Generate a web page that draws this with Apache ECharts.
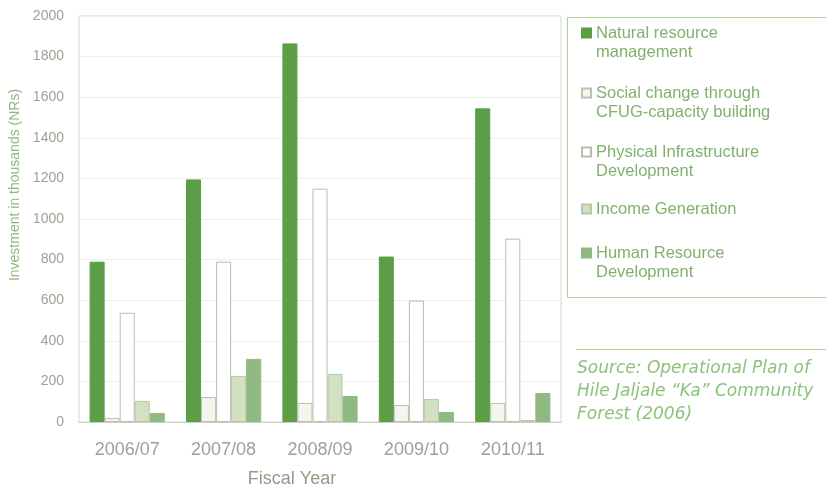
<!DOCTYPE html>
<html>
<head>
<meta charset="utf-8">
<script src="https://cdn.jsdelivr.net/npm/echarts@6/dist/echarts.min.js"></script>
<style>
  html, body { margin: 0; padding: 0; background: #fff; }
  #main { width: 826px; height: 487px; }
</style>
</head>
<body>
<div id="main"></div>
<script>
// data (thousands of NRs)
var years = ['2006/07', '2007/08', '2008/09', '2009/10', '2010/11'];
var seriesNames = [
  'Natural resource management',
  'Social change through CFUG-capacity building',
  'Physical Infrastructure Development',
  'Income Generation',
  'Human Resource Development'
];
var legendLabels = [
  'Natural resource\nmanagement',
  'Social change through\nCFUG-capacity building',
  'Physical Infrastructure\nDevelopment',
  'Income Generation',
  'Human Resource\nDevelopment'
];
var naturalResource = [790, 1195, 1865, 815, 1545];
var socialChange    = [20, 123, 94, 84, 94];
var physicalInfra   = [538, 790, 1150, 598, 903];
var incomeGen       = [104, 227, 237, 113, 10];
var humanResource   = [44, 311, 128, 49, 143];
var yTicks = { min: 0, max: 2000, interval: 200 };

var values = [naturalResource, socialChange, physicalInfra, incomeGen, humanResource];
var fills = ['#5c9e48', '#f3f6ed', '#ffffff', '#d2e1c2', '#90b982'];
var borders = ['#5c9e48', '#bcc1b0', '#b9bdac', '#b9c8a8', '#90b982'];

var chart = echarts.init(document.getElementById('main'));

var series = seriesNames.map(function (name, i) {
  return {
    name: name,
    type: 'bar',
    barGap: '0%',
    barCategoryGap: '22%',
    itemStyle: { color: fills[i], borderColor: borders[i], borderWidth: 1 },
    data: values[i]
  };
});

// one legend per entry; a blank leading line keeps the marker beside the first text line
var firstLineY = [33, 93, 152, 209, 253];
var legends = seriesNames.map(function (name, i) {
  var twoLines = legendLabels[i].indexOf('\n') >= 0;
  return {
    orient: 'vertical',
    left: 581,
    top: twoLines ? firstLineY[i] - 28.5 : firstLineY[i] - 9.5,
    padding: 0,
    itemWidth: 9,
    itemHeight: 9,
    itemGap: 0,
    selectedMode: false,
    icon: 'rect',
    data: [name],
    formatter: function () { return twoLines ? ' \n' + legendLabels[i] : legendLabels[i]; },
    textStyle: {
      fontFamily: 'Liberation Sans',
      fontSize: 16.5,
      color: '#82b06d',
      lineHeight: 19
    }
  };
});

chart.setOption({
  animation: false,
  backgroundColor: '#ffffff',
  grid: {
    left: 79, right: 265, top: 16, bottom: 65,
    outerBoundsMode: 'none',
    containLabel: false,
    show: true, borderColor: '#d3d7cf', borderWidth: 1
  },
  legend: legends,
  xAxis: {
    type: 'category',
    data: years,
    name: 'Fiscal Year',
    nameLocation: 'middle',
    nameGap: 48,
    nameTextStyle: {
      fontFamily: 'Liberation Sans', fontSize: 18, color: '#8e9d87',
      padding: [0, 56, 0, 0]
    },
    axisLine: { lineStyle: { color: '#c9cfc3' } },
    axisTick: { show: false },
    axisLabel: {
      fontFamily: 'Liberation Sans', fontSize: 18, color: '#9aa394', margin: 19
    }
  },
  yAxis: {
    type: 'value',
    min: yTicks.min,
    max: yTicks.max,
    interval: yTicks.interval,
    name: 'Investment in thousands (NRs)',
    nameLocation: 'middle',
    nameRotate: 90,
    nameGap: 50,
    nameTextStyle: {
      fontFamily: 'Liberation Sans', fontSize: 14, color: '#8dba7c',
      padding: [0, 0, 0, 68]
    },
    axisLine: { show: false },
    axisTick: { show: false },
    axisLabel: {
      fontFamily: 'Liberation Sans', fontSize: 14, color: '#9aa394', margin: 15,
      formatter: function (v) { return String(v); }
    },
    splitLine: { lineStyle: { color: '#eceee8' } }
  },
  graphic: [
    {
      type: 'rect',
      shape: { x: 567.5, y: 17.5, width: 270, height: 280 },
      style: { fill: 'none', stroke: '#a9d09a', lineWidth: 1 },
      silent: true
    },
    {
      type: 'line',
      shape: { x1: 576, y1: 349.5, x2: 826, y2: 349.5 },
      style: { stroke: '#a9d09a', lineWidth: 1 },
      silent: true
    },
    {
      type: 'text',
      left: 577,
      top: 357,
      style: {
        text: 'Source: Operational Plan of\nHile Jaljale \u201cKa\u201d Community\nForest (2006)',
        font: 'italic 17px "DejaVu Sans"',
        fill: '#8dc27b',
        lineHeight: 23
      },
      silent: true
    }
  ],
  series: series
});
</script>
</body>
</html>
